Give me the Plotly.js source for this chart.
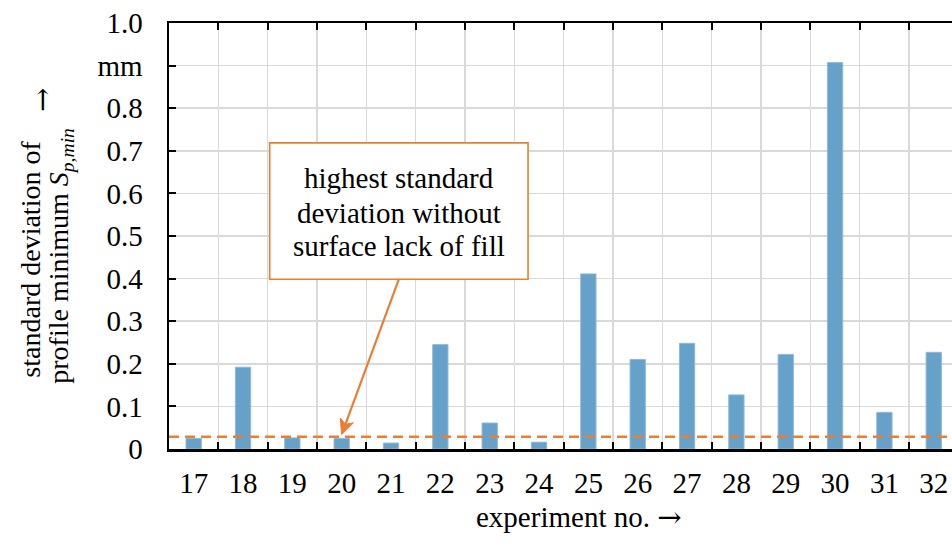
<!DOCTYPE html>
<html>
<head>
<meta charset="utf-8">
<script src="https://cdn.plot.ly/plotly-3.0.1.min.js"></script>
<style>html,body{margin:0;padding:0;background:#fff;}#chart{width:952px;height:545px;}</style>
</head>
<body>
<div id="chart"></div>
<script>
const experiments = ['17','18','19','20','21','22','23','24','25','26','27','28','29','30','31','32'];
const stdDevSpMin = [0.025, 0.192, 0.026, 0.025, 0.014, 0.245, 0.061, 0.016, 0.411, 0.210, 0.248, 0.127, 0.222, 0.907, 0.086, 0.227];
const thresholdValue = 0.0285;
const yTickVals = [0, 0.1, 0.2, 0.3, 0.4, 0.5, 0.6, 0.7, 0.8, 0.9, 1.0];
const yTickText = ['0', '0.1', '0.2', '0.3', '0.4', '0.5', '0.6', '0.7', '0.8', 'mm', '1.0'];
const noteLines = ['highest standard', 'deviation without', 'surface lack of fill'];
const yTitleLines = ['standard deviation of', 'profile minimum <i>S</i><sub><i>p,min</i></sub>'];
const xTitleText = 'experiment no. <span style="font-family:DejaVu Serif">→</span>';
const arrowGlyph = '<span style="font-family:DejaVu Serif">→</span>';

const serif = 'Liberation Serif, Times New Roman, serif';
const orange = '#ED7D31';
const FS = 29;

const trace = {
  type: 'bar',
  x: experiments,
  y: stdDevSpMin,
  width: 0.31,
  marker: {color: '#65A1C9', line: {color: '#8FB9D9', width: 1}},
  hoverinfo: 'skip'
};

function txt(text, x, y, opts) {
  return Object.assign({xref: 'paper', yref: 'paper', x: x, y: y, xanchor: 'center', yanchor: 'middle',
    text: text, showarrow: false, font: {family: serif, size: FS, color: '#000'}}, opts || {});
}

const annotations = [
  Object.assign(txt(noteLines[0], 4.16, 0.636), {xref: 'x', yref: 'y'}),
  Object.assign(txt(noteLines[1], 4.16, 0.554), {xref: 'x', yref: 'y'}),
  Object.assign(txt(noteLines[2], 4.16, 0.4755), {xref: 'x', yref: 'y'}),
  txt(xTitleText, 0.5234, -0.1585),
  txt(yTitleLines[0], -0.178, 0.446, {textangle: -90, font: {family: serif, size: 28, color: '#000'}}),
  txt(yTitleLines[1], -0.1396, 0.453, {textangle: -90, font: {family: serif, size: 28, color: '#000'}}),
  txt(arrowGlyph, -0.1614, 0.8185, {textangle: -90})
];

const layout = {
  width: 952, height: 545,
  margin: {l: 169, r: 0, t: 23, b: 96},
  paper_bgcolor: '#fff', plot_bgcolor: '#fff',
  showlegend: false,
  font: {family: serif, size: FS, color: '#000'},
  xaxis: {
    type: 'category',
    range: [-0.5, 15.37],
    tickson: 'boundaries',
    ticks: 'inside', ticklen: 7, tickwidth: 2, tickcolor: '#000',
    showline: true, linecolor: '#000', linewidth: 2.5, mirror: 'ticks',
    showgrid: true, gridcolor: '#D9D9D9', gridwidth: 1.5,
    tickfont: {family: serif, size: FS, color: '#000'},
    ticklabelstandoff: 7,
    zeroline: false, fixedrange: true
  },
  yaxis: {
    range: [0, 1.0],
    tickvals: yTickVals, ticktext: yTickText,
    ticks: 'inside', ticklen: 7, tickwidth: 2, tickcolor: '#000',
    showline: true, linecolor: '#000', linewidth: 2.5, mirror: false,
    showgrid: true, gridcolor: '#D9D9D9', gridwidth: 1.5,
    tickfont: {family: serif, size: FS, color: '#000'},
    ticklabelstandoff: 18,
    zeroline: false, fixedrange: true
  },
  shapes: [
    {
      type: 'line', xref: 'paper', x0: 0, x1: 1, yref: 'y', y0: thresholdValue, y1: thresholdValue,
      line: {color: orange, width: 2.5, dash: '10px,6px'}
    },
    {
      type: 'rect', xref: 'x', yref: 'y', x0: 1.541, x1: 6.777, y0: 0.3986, y1: 0.7185,
      fillcolor: '#fff', line: {color: orange, width: 1.6}
    },
    {
      type: 'path', xref: 'x', yref: 'y', xsizemode: 'pixel', ysizemode: 'pixel', xanchor: 3, yanchor: 0.034,
      path: 'M 3.8,10.3 L 57.3,155.7', line: {color: orange, width: 2.2}
    },
    {
      type: 'path', xref: 'x', yref: 'y', xsizemode: 'pixel', ysizemode: 'pixel', xanchor: 3, yanchor: 0.034,
      path: 'M 0,0 L 11.75,11.66 L 3.8,10.3 L -1.39,16.5 Z', fillcolor: orange, line: {color: orange, width: 1}
    }
  ],
  annotations: annotations
};

Plotly.newPlot('chart', [trace], layout, {displayModeBar: false, staticPlot: true});
</script>
</body>
</html>
